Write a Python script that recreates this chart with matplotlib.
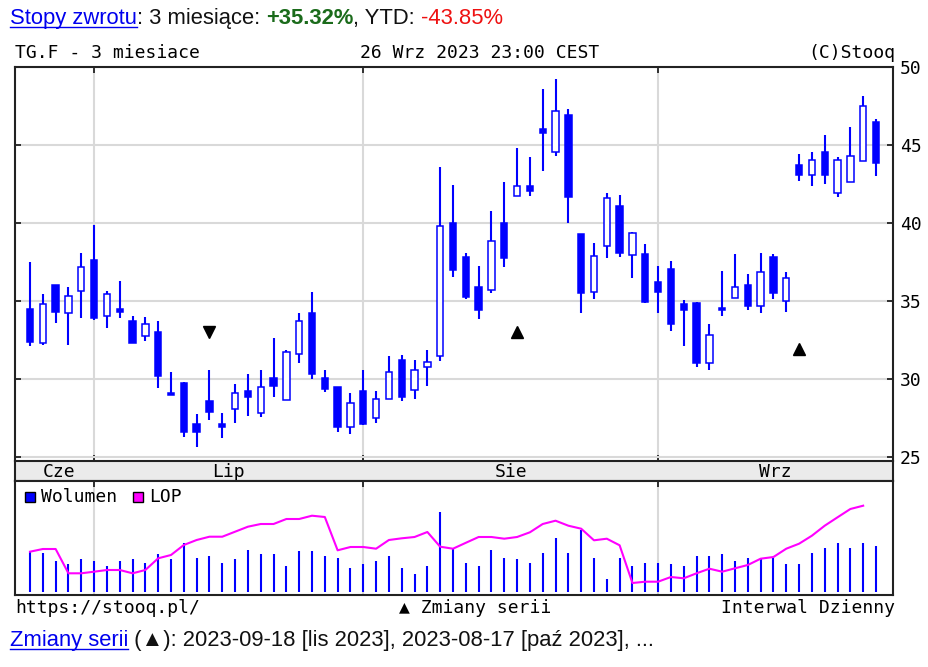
import matplotlib
matplotlib.use('Agg')
import matplotlib.pyplot as plt
import numpy as np
import pandas as pd
from matplotlib.patches import Rectangle
from matplotlib.lines import Line2D
from matplotlib.transforms import blended_transform_factory

# ---------------- data ----------------
dates = pd.bdate_range('2023-06-26', '2023-09-26')
month_labels = ['Cze', 'Lip', 'Sie', 'Wrz']

opens = [34.5, 32.3, 36.0, 34.25, 35.65, 37.6, 34.05, 34.5, 33.75, 32.75,
         33.0, 29.1, 29.75, 27.1, 28.6, 27.1, 28.1, 29.2, 27.8, 30.05,
         28.65, 31.6, 34.25, 30.05, 29.5, 26.95, 29.2, 27.5, 28.75, 31.2,
         29.3, 30.75, 31.5, 40.0, 37.8, 35.9, 35.7, 40.0, 41.75, 42.35,
         46.05, 44.55, 46.9, 39.3, 35.55, 38.5, 41.1, 37.95, 38.0, 36.2,
         37.05, 34.8, 34.85, 31.05, 34.5, 35.2, 36.0, 34.65, 37.8, 35.0,
         43.7, 43.05, 44.55, 41.95, 42.6, 44.0, 46.45]
highs = [37.5, 35.45, 36.0, 35.9, 38.1, 39.85, 35.65, 36.3, 34.05, 33.95,
         33.75, 30.45, 29.8, 27.75, 30.6, 27.85, 29.65, 30.3, 30.6, 32.6,
         31.85, 34.25, 35.55, 30.6, 29.5, 29.1, 30.6, 29.2, 31.45, 31.55,
         31.2, 31.85, 43.6, 42.45, 38.1, 37.25, 40.75, 42.65, 44.8, 44.25,
         48.6, 49.25, 47.3, 39.3, 38.75, 41.9, 41.8, 39.45, 38.65, 37.25,
         37.55, 35.05, 34.95, 33.55, 36.95, 38.0, 36.75, 38.1, 38.0, 36.85,
         44.45, 44.55, 45.65, 44.25, 46.15, 48.15, 46.65]
lows = [32.1, 32.2, 33.6, 32.2, 33.9, 33.8, 33.3, 33.9, 32.3, 32.45,
        29.45, 29.0, 26.3, 25.65, 27.35, 26.2, 27.2, 27.65, 27.55, 28.85,
        28.65, 31.05, 30.0, 29.15, 26.6, 26.5, 27.05, 27.2, 28.75, 28.6,
        28.7, 29.55, 31.15, 36.55, 35.15, 33.85, 35.5, 37.2, 41.75, 41.75,
        43.35, 44.3, 40.0, 34.2, 35.15, 37.75, 37.85, 36.45, 34.85, 34.2,
        33.1, 32.1, 30.75, 30.6, 34.05, 35.2, 34.4, 34.2, 35.15, 34.3,
        42.7, 42.4, 42.5, 41.65, 42.6, 44.0, 43.0]
closes = [32.4, 34.8, 34.3, 35.35, 37.15, 33.9, 35.45, 34.3, 32.3, 33.5,
          30.2, 29.0, 26.6, 26.6, 27.9, 26.95, 29.1, 28.85, 29.5, 29.55,
          31.75, 33.75, 30.3, 29.35, 26.9, 28.45, 27.1, 28.75, 30.45, 28.85,
          30.6, 31.1, 39.8, 37.0, 35.25, 34.45, 38.85, 37.75, 42.35, 42.05,
          45.75, 47.2, 41.65, 35.5, 37.9, 41.6, 38.05, 39.35, 34.95, 35.6,
          33.55, 34.4, 31.05, 32.8, 34.45, 35.9, 34.65, 36.85, 35.5, 36.5,
          43.1, 44.05, 43.1, 44.05, 44.3, 47.5, 43.85]
volume = [406, 393, 313, 280, 330, 313, 263, 313, 330, 296,
          380, 330, 493, 346, 363, 296, 330, 426, 380, 380,
          263, 410, 410, 363, 346, 246, 280, 313, 363, 246,
          180, 263, 806, 430, 296, 263, 426, 343, 330, 296,
          393, 543, 393, 623, 343, 130, 343, 263, 296, 296,
          280, 263, 363, 363, 380, 313, 343, 330, 343, 280,
          280, 393, 443, 493, 443, 493, 463]
lop = [406, 433, 433, 190, 190, 206, 223, 223, 190, 223,
       340, 373, 473, 523, 556, 556, 606, 656, 683, 683,
       733, 733, 766, 753, 420, 453, 453, 436, 523, 540,
       553, 603, 456, 436, 495, 553, 553, 536, 553, 600,
       683, 716, 666, 636, 520, 536, 470, 93, 106, 106,
       153, 140, 190, 236, 206, 240, 273, 336, 353, 436,
       486, 566, 666, 750, 833, 866, np.nan]
change_idx = [14, 38, 60]
change_y = [33.0, 33.0, 31.9]
change_marker = ['v', '^', '^']

# ---------------- layout helpers ----------------
W, H = 929, 667
fig = plt.figure(figsize=(W / 100, H / 100), dpi=100)
plt.rcParams['font.family'] = ['DejaVu Sans Mono', 'DejaVu Sans']


def fx(px):
    return px / W


def fy(py):
    return 1 - py / H


BLUE = '#0000ff'
GRID = '#d9d9d9'
DARK = '#222222'
MONO = ['DejaVu Sans Mono', 'DejaVu Sans']
SANS = ['Liberation Sans', 'DejaVu Sans']

L, R = 15, 893
TOP, MAIN_BOT, BAND_BOT, VOL_BOT = 67, 461, 481, 595
ax = fig.add_axes([fx(L), fy(MAIN_BOT), (R - L) / W, (MAIN_BOT - TOP) / H])
band = fig.add_axes([fx(L), fy(BAND_BOT), (R - L) / W, (BAND_BOT - MAIN_BOT) / H])
vax = fig.add_axes([fx(L), fy(VOL_BOT), (R - L) / W, (VOL_BOT - BAND_BOT) / H])

n = len(dates)
idx = np.arange(n)
step = 12.818
xlo, xhi = (L - 30) / step, (R - 30) / step
for a in (ax, band, vax):
    a.set_xlim(xlo, xhi)

months = dates.month.values
month_start = [i for i in range(1, n) if months[i] != months[i - 1]]

# ---------------- main candlestick panel ----------------
ppu = 15.6
ax.set_ylim(50 - (MAIN_BOT - TOP) / ppu, 50)
ax.set_yticks([25, 30, 35, 40, 45, 50])
ax.set_xticks(month_start)
ax.set_axisbelow(True)
ax.grid(True, color=GRID, lw=1.5)
ax.tick_params(axis='y', direction='in', length=4, width=1.3, color=DARK,
               left=True, right=True, labelleft=False, labelright=True,
               labelsize=13, pad=5)
ax.tick_params(axis='x', direction='in', length=4, width=1.3, color=DARK,
               top=True, bottom=True, labelbottom=False)
for s in ('left', 'right', 'top'):
    ax.spines[s].set_color(DARK)
    ax.spines[s].set_linewidth(1.5)
ax.spines['bottom'].set_visible(False)

o = np.array(opens); c = np.array(closes)
hi = np.array(highs); lo = np.array(lows)
up = c >= o
bb = np.minimum(o, c)
bh = np.maximum(np.abs(c - o), 0.13)
ax.vlines(idx, lo, hi, color=BLUE, lw=1.5, zorder=2)
ax.bar(idx[~up], bh[~up], bottom=bb[~up], width=0.5, color=BLUE,
       edgecolor=BLUE, lw=1.1, zorder=3)
ax.bar(idx[up], bh[up], bottom=bb[up], width=0.5, facecolor='white',
       edgecolor=BLUE, lw=1.1, zorder=3)
for i, yv, m in zip(change_idx, change_y, change_marker):
    ax.plot(i, yv, marker=m, color='black', markersize=9, zorder=4)

# ---------------- date band ----------------
band.set_facecolor('#ebebeb')
band.set_xticks([]); band.set_yticks([])
for s in band.spines.values():
    s.set_color(DARK); s.set_linewidth(1.5)
bounds = [-0.5] + month_start + [xhi]
tr = blended_transform_factory(band.transData, band.transAxes)
for k, lab in enumerate(month_labels):
    band.text((bounds[k] + bounds[k + 1]) / 2, 0.45, lab, transform=tr,
              ha='center', va='center', fontsize=13, family=MONO, color='black')

# ---------------- volume panel ----------------
base = 592.3
vax.set_ylim(-(VOL_BOT - base), base - BAND_BOT)
vax.set_xticks(month_start)
vax.set_yticks([])
vax.set_axisbelow(True)
vax.grid(True, axis='x', color=GRID, lw=1.5)
vax.tick_params(axis='x', direction='in', length=4, width=1.3, color=DARK,
                top=True, bottom=False, labelbottom=False)
for s in vax.spines.values():
    s.set_color(DARK); s.set_linewidth(1.5)
vax.vlines(idx, 0, np.array(volume) / 10.0, color=BLUE, lw=1.5, zorder=2)
vax.plot(idx, np.array(lop) / 10.0, color='#ff00ff', lw=1.5, zorder=3)

# legend
for (x0, col, lab) in [(25, BLUE, 'Wolumen'), (133, '#ff00ff', 'LOP')]:
    fig.add_artist(Rectangle((fx(x0), fy(502)), 10 / W, 10 / H,
                             transform=fig.transFigure, facecolor=col,
                             edgecolor='black', lw=1.0))
    fig.text(fx(x0 + 16), fy(497), lab, ha='left', va='center',
             fontsize=13, family=MONO, color='black')

# ---------------- header / footer texts ----------------
fig.text(fx(15), fy(58), 'TG.F - 3 miesiace', ha='left', va='baseline',
         fontsize=13, family=MONO, color='black')
fig.text(fx(480), fy(58), '26 Wrz 2023 23:00 CEST', ha='center', va='baseline',
         fontsize=13, family=MONO, color='black')
fig.text(fx(895), fy(58), '(C)Stooq', ha='right', va='baseline',
         fontsize=13, family=MONO, color='black')

fig.text(fx(15), fy(613), 'https://stooq.pl/', ha='left', va='baseline',
         fontsize=13, family=MONO, color='black')
fig.text(fx(475), fy(613), '\u25b2 Zmiany serii', ha='center', va='baseline',
         fontsize=13, family=MONO, color='black')
fig.text(fx(895), fy(613), 'Interwal Dzienny', ha='right', va='baseline',
         fontsize=13, family=MONO, color='black')

renderer = fig.canvas.get_renderer()


def advance(s, **kw):
    t1 = fig.text(0, 0, s + '|', **kw)
    t2 = fig.text(0, 0, '|', **kw)
    w = t1.get_window_extent(renderer).width - t2.get_window_extent(renderer).width
    t1.remove(); t2.remove()
    return w


def segments(x, y, segs, size):
    for s, kw in segs:
        k = dict(fontsize=size, family=SANS, color='#111111')
        link = kw.pop('underline', False) if isinstance(kw, dict) else False
        k.update(kw)
        fig.text(fx(x), fy(y), s, ha='left', va='baseline', **k)
        w = advance(s, **k)
        if link:
            fig.add_artist(Line2D([fx(x), fx(x + w)], [fy(y + 2.5)] * 2,
                                  transform=fig.transFigure, color=k['color'], lw=1.0))
        x += w


segments(10, 24, [('Stopy zwrotu', dict(color='#0000ee', underline=True)),
                  (': 3 miesi\u0105ce: ', {}),
                  ('+35.32%', dict(color='#1b6b1b', fontweight='bold')),
                  (', YTD: ', {}),
                  ('-43.85%', dict(color='#ee1111'))], 15.8)

segments(10, 646, [('Zmiany serii', dict(color='#0000ee', underline=True)),
                   (' (\u25b2): 2023-09-18 [lis 2023], 2023-08-17 [pa\u017a 2023], ...', {})],
         15.8)

fig.savefig('out.png', dpi=100)
